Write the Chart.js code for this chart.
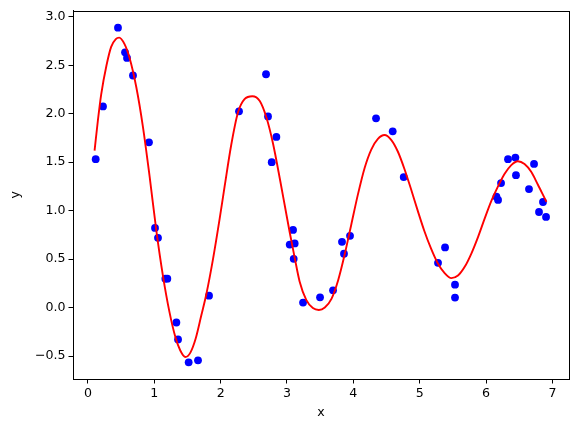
<!DOCTYPE html>
<html>
<head>
<meta charset="utf-8">
<script src="https://cdn.jsdelivr.net/npm/chart.js@4"></script>
<style>
  html, body { margin: 0; padding: 0; background: #fff; }
  #wrap { width: 579px; height: 432px; }
</style>
</head>
<body>
<div id="wrap"><canvas id="chart" width="579" height="432"></canvas></div>
<script>
// Scatter samples (blue dots)
const pointX = [0.117, 0.227, 0.453, 0.559, 0.589, 0.679, 0.920, 1.011, 1.056, 1.167,
  1.197, 1.333, 1.358, 1.518, 1.659, 1.825, 2.277, 2.684, 2.714, 2.770,
  2.840, 3.041, 3.091, 3.101, 3.116, 3.242, 3.498, 3.694, 3.829, 3.859,
  3.950, 4.342, 4.593, 4.759, 5.276, 5.382, 5.532, 5.532, 6.156, 6.181,
  6.226, 6.331, 6.442, 6.451, 6.647, 6.723, 6.798, 6.858, 6.904];
const pointY = [1.531, 2.075, 2.887, 2.633, 2.575, 2.394, 1.705, 0.822, 0.719, 0.298,
  0.298, -0.154, -0.329, -0.565, -0.544, 0.123, 2.024, 2.407, 1.972, 1.500,
  1.760, 0.650, 0.801, 0.503, 0.662, 0.051, 0.106, 0.178, 0.678, 0.555,
  0.740, 1.952, 1.818, 1.346, 0.462, 0.620, 0.236, 0.103, 1.143, 1.110,
  1.284, 1.531, 1.547, 1.366, 1.222, 1.482, 0.986, 1.089, 0.935];

// Fitted curve (red line)
const curveX = [0.10, 0.15, 0.20, 0.28, 0.35, 0.42, 0.47, 0.55, 0.63, 0.73,
  0.83, 0.93, 1.03, 1.13, 1.23, 1.32, 1.39, 1.468, 1.544, 1.624,
  1.709, 1.785, 1.885, 1.986, 2.06, 2.16, 2.26, 2.36, 2.478, 2.59,
  2.69, 2.79, 2.90, 2.97, 3.04, 3.12, 3.19, 3.29, 3.39, 3.48,
  3.57, 3.67, 3.77, 3.87, 3.97, 4.07, 4.17, 4.27, 4.37, 4.47,
  4.57, 4.67, 4.77, 4.87, 4.97, 5.07, 5.17, 5.27, 5.37, 5.477,
  5.577, 5.678, 5.78, 5.88, 5.98, 6.08, 6.18, 6.28, 6.38, 6.48,
  6.58, 6.68, 6.78, 6.86, 6.91];
const curveY = [1.62, 1.93, 2.20, 2.50, 2.69, 2.77, 2.785, 2.72, 2.57, 2.27,
  1.86, 1.35, 0.80, 0.33, -0.05, -0.31, -0.44, -0.51, -0.465, -0.32,
  -0.08, 0.14, 0.50, 0.92, 1.25, 1.68, 2.01, 2.15, 2.18, 2.13,
  1.96, 1.69, 1.30, 1.04, 0.78, 0.50, 0.27, 0.08, -0.005, -0.025,
  0.00, 0.09, 0.28, 0.55, 0.86, 1.17, 1.44, 1.63, 1.74, 1.78,
  1.73, 1.61, 1.43, 1.22, 1.00, 0.79, 0.61, 0.46, 0.36, 0.304,
  0.33, 0.42, 0.56, 0.73, 0.92, 1.10, 1.25, 1.38, 1.47, 1.51,
  1.48, 1.40, 1.27, 1.16, 1.09];

const xTicks = [0, 1, 2, 3, 4, 5, 6, 7];
const yTicks = [-0.5, 0.0, 0.5, 1.0, 1.5, 2.0, 2.5, 3.0];

const tickFont = { family: 'DejaVu Sans', size: 12.6 };

// draws the top/right spines too
const frame = {
  id: 'frame',
  afterDraw(chart) {
    const { ctx, chartArea: a } = chart;
    ctx.save();
    ctx.strokeStyle = '#000';
    ctx.lineWidth = 1;
    ctx.strokeRect(Math.round(a.left) + 0.5, Math.round(a.top) + 0.5,
      Math.round(a.right - a.left), Math.round(a.bottom - a.top));
    ctx.restore();
  }
};

const fmt = v => v.toFixed(1).replace('-', '\u2212');

new Chart(document.getElementById('chart'), {
  type: 'scatter',
  data: {
    datasets: [
      {
        type: 'line',
        data: curveX.map((x, i) => ({ x, y: curveY[i] })),
        borderColor: '#ff0000',
        borderWidth: 1.9,
        pointRadius: 0,
        cubicInterpolationMode: 'monotone',
        fill: false,
        order: 0
      },
      {
        data: pointX.map((x, i) => ({ x, y: pointY[i] })),
        backgroundColor: '#0000ff',
        borderColor: '#0000ff',
        borderWidth: 0,
        pointRadius: 3.9,
        order: 1
      }
    ]
  },
  options: {
    animation: false,
    responsive: false,
    layout: { padding: { left: 0, top: 9, right: 10, bottom: 0 } },
    plugins: { legend: { display: false }, tooltip: { enabled: false } },
    scales: {
      x: {
        type: 'linear',
        min: -0.225,
        max: 7.25,
        afterBuildTicks: s => { s.ticks = xTicks.map(v => ({ value: v })); },
        afterFit: s => { s.height = 53; },
        grid: { drawOnChartArea: false, drawTicks: true, tickLength: 4.5, color: '#000' },
        border: { color: '#000', width: 1 },
        ticks: { color: '#000', font: tickFont, padding: 3, maxRotation: 0, callback: v => String(v) },
        title: { display: true, text: 'x', color: '#000', font: tickFont, padding: { top: 0, bottom: 11.5 } }
      },
      y: {
        type: 'linear',
        min: -0.737,
        max: 3.064,
        afterBuildTicks: s => { s.ticks = yTicks.map(v => ({ value: v })); },
        afterFit: s => { s.width = 73; },
        grid: { drawOnChartArea: false, drawTicks: true, tickLength: 4.5, color: '#000' },
        border: { color: '#000', width: 1 },
        ticks: { color: '#000', font: tickFont, padding: 3, callback: v => fmt(v) },
        title: { display: true, text: 'y', color: '#000', font: tickFont, padding: { top: 8.5, bottom: 0 } }
      }
    }
  },
  plugins: [frame]
});
</script>
</body>
</html>
